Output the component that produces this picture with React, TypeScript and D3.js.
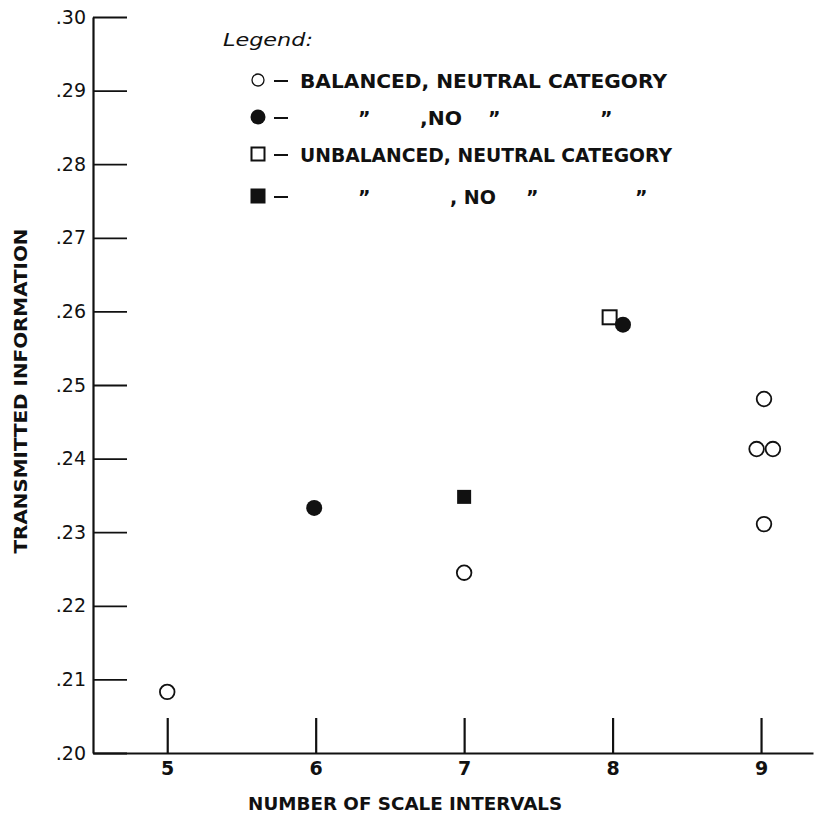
import React, { useEffect, useRef } from 'react';
import * as d3 from 'd3';

// values
const xTicks = [5, 6, 7, 8, 9];
const yTicks = [0.2, 0.21, 0.22, 0.23, 0.24, 0.25, 0.26, 0.27, 0.28, 0.29, 0.3];

const balancedNeutralX = [5, 7, 9.02, 8.97, 9.08, 9.02];
const balancedNeutralY = [0.2083, 0.2245, 0.2481, 0.2413, 0.2413, 0.2311];

const balancedNoX = [5.99, 8.07];
const balancedNoY = [0.2333, 0.2582];

const unbalancedNeutralX = [7.98];
const unbalancedNeutralY = [0.2592];

const unbalancedNoX = [7.0];
const unbalancedNoY = [0.2348];

const legendTitle = 'Legend:';
const legendRows = [
    { shape: 'circle', filled: false, parts: ['BALANCED, NEUTRAL CATEGORY'] },
    { shape: 'circle', filled: true, parts: ['\u201D', ',NO', '\u201D', '\u201D'] },
    { shape: 'square', filled: false, parts: ['UNBALANCED, NEUTRAL CATEGORY'] },
    { shape: 'square', filled: true, parts: ['\u201D', ', NO', '\u201D', '\u201D'] }
];

const xTitle = 'NUMBER OF SCALE INTERVALS';
const yTitle = 'TRANSMITTED INFORMATION';

export default function App() {
    const svgRef = useRef<SVGSVGElement>(null);

    useEffect(() => {
        const svg = d3.select(svgRef.current);
        svg.selectAll('*').remove();

        const W = 820;
        const H = 816;
        const ink = '#111';
        const font = "'DejaVu Sans', sans-serif";

        svg.attr('width', W).attr('height', H);
        svg.append('rect').attr('width', W).attr('height', H).attr('fill', '#fff');

        // ---- Scales
        const x = d3.scaleLinear().domain([4.5, 9.35]).range([93, 813]);
        const y = d3.scaleLinear().domain([0.2, 0.3]).range([753, 17]);

        // ---- Axes (ticks point inward, like the original drawing)
        const yAxis = d3.axisLeft(y)
            .tickValues(yTicks)
            .tickSizeInner(-34)
            .tickSizeOuter(0)
            .tickPadding(7)
            .tickFormat(d => '.' + d3.format('.2f')(+d).slice(2));

        const gy = svg.append('g')
            .attr('transform', `translate(${x(4.5)},0)`)
            .call(yAxis);
        gy.select('.domain').attr('stroke', ink).attr('stroke-width', 2.2);
        gy.selectAll('.tick line').attr('stroke', ink).attr('stroke-width', 1.8);
        gy.selectAll('.tick text')
            .attr('fill', ink)
            .style('font-family', font)
            .style('font-size', '19px');

        const xAxis = d3.axisBottom(x)
            .tickValues(xTicks)
            .tickSizeInner(-35)
            .tickSizeOuter(0)
            .tickPadding(9)
            .tickFormat(d3.format('d'));

        const gx = svg.append('g')
            .attr('transform', `translate(0,${y(0.2)})`)
            .call(xAxis);
        gx.select('.domain').attr('stroke', ink).attr('stroke-width', 2.2);
        gx.selectAll('.tick line').attr('stroke', ink).attr('stroke-width', 2.2);
        gx.selectAll('.tick text')
            .attr('fill', ink)
            .style('font-family', font)
            .style('font-weight', 'bold')
            .style('font-size', '19px');

        // ---- Axis titles
        svg.append('text')
            .attr('x', (x(5) + x(9)) / 2 - 59)
            .attr('y', 810)
            .attr('text-anchor', 'middle')
            .attr('textLength', 314)
            .attr('lengthAdjust', 'spacingAndGlyphs')
            .style('font-family', font)
            .style('font-weight', 'bold')
            .style('font-size', '18px')
            .attr('fill', ink)
            .text(xTitle);

        svg.append('text')
            .attr('transform', `translate(27,${(y(0.2) + y(0.3)) / 2 + 6}) rotate(-90)`)
            .attr('text-anchor', 'middle')
            .attr('textLength', 325)
            .attr('lengthAdjust', 'spacingAndGlyphs')
            .style('font-family', font)
            .style('font-weight', 'bold')
            .style('font-size', '18px')
            .attr('fill', ink)
            .text(yTitle);

        // ---- Points
        const zip = (xs: number[], ys: number[]) => xs.map((v, i) => ({ x: v, y: ys[i] }));

        const circles = (pts: { x: number; y: number }[], filled: boolean) => {
            svg.append('g')
                .selectAll('circle')
                .data(pts)
                .enter()
                .append('circle')
                .attr('cx', d => x(d.x))
                .attr('cy', d => y(d.y))
                .attr('r', filled ? 8 : 7.3)
                .attr('fill', filled ? ink : 'none')
                .attr('stroke', ink)
                .attr('stroke-width', filled ? 0 : 1.8);
        };

        const squares = (pts: { x: number; y: number }[], filled: boolean) => {
            const s = 14;
            svg.append('g')
                .selectAll('rect')
                .data(pts)
                .enter()
                .append('rect')
                .attr('x', d => x(d.x) - s / 2)
                .attr('y', d => y(d.y) - s / 2)
                .attr('width', s)
                .attr('height', s)
                .attr('fill', filled ? ink : 'none')
                .attr('stroke', ink)
                .attr('stroke-width', filled ? 0 : 2);
        };

        squares(zip(unbalancedNeutralX, unbalancedNeutralY), false);
        squares(zip(unbalancedNoX, unbalancedNoY), true);
        circles(zip(balancedNeutralX, balancedNeutralY), false);
        circles(zip(balancedNoX, balancedNoY), true);

        // ---- Legend
        svg.append('text')
            .attr('x', 223)
            .attr('y', 46)
            .attr('textLength', 90)
            .attr('lengthAdjust', 'spacingAndGlyphs')
            .style('font-family', font)
            .style('font-style', 'italic')
            .style('font-size', '18px')
            .attr('fill', ink)
            .text(legendTitle);

        const rowY = [80, 117, 154, 196];
        const dittoX = [358, 420, 488, 600];
        const dittoX2 = [358, 450, 526, 635];

        legendRows.forEach((row, i) => {
            const cy = rowY[i];
            const mx = 258;
            if (row.shape === 'circle') {
                svg.append('circle')
                    .attr('cx', mx)
                    .attr('cy', cy)
                    .attr('r', row.filled ? 7.5 : 6)
                    .attr('fill', row.filled ? ink : 'none')
                    .attr('stroke', ink)
                    .attr('stroke-width', row.filled ? 0 : 1.3);
            } else {
                const s = row.filled ? 15 : 13;
                svg.append('rect')
                    .attr('x', mx - s / 2)
                    .attr('y', cy - s / 2)
                    .attr('width', s)
                    .attr('height', s)
                    .attr('fill', row.filled ? ink : 'none')
                    .attr('stroke', ink)
                    .attr('stroke-width', row.filled ? 0 : 2);
            }

            svg.append('line')
                .attr('x1', 274)
                .attr('x2', 288)
                .attr('y1', cy + 1)
                .attr('y2', cy + 1)
                .attr('stroke', ink)
                .attr('stroke-width', 2);

            const txt = (tx: number, s: string, len?: number) => {
                const t = svg.append('text')
                    .attr('x', tx)
                    .attr('y', cy + 7.5)
                    .style('font-family', font)
                    .style('font-weight', 'bold')
                    .style('font-size', '19px')
                    .attr('fill', ink)
                    .text(s);
                if (len) t.attr('textLength', len).attr('lengthAdjust', 'spacingAndGlyphs');
            };

            if (row.parts.length === 1) {
                txt(300, row.parts[0], i === 0 ? 367 : 372);
            } else {
                const xs = i === 1 ? dittoX : dittoX2;
                row.parts.forEach((p, j) => txt(xs[j], p, p.startsWith(',') ? (i === 1 ? 42 : 46) : undefined));
            }
        });
    }, []);

    return (
        <div style={{ position: 'fixed', left: 0, top: 0 }}>
            <svg ref={svgRef} style={{ display: 'block' }} />
        </div>
    );
}
